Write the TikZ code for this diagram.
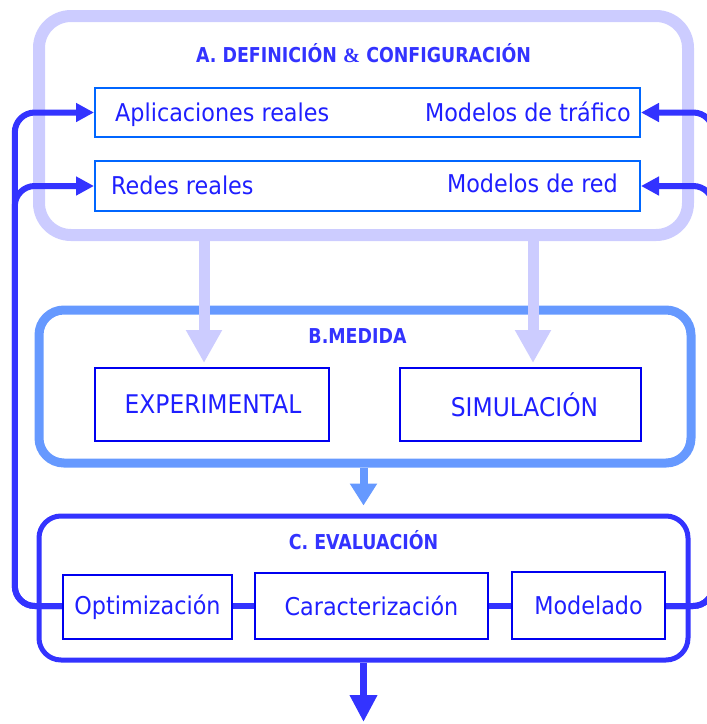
\documentclass[tikz,border=0pt]{standalone}
\usepackage{fontspec}
\usetikzlibrary{arrows.meta}
\newfontfamily\tahfont[FakeStretch=0.91]{DejaVu Sans}
\newfontfamily\tahbfont[FakeStretch=0.85]{DejaVu Sans}
\newfontfamily\ampfont{Liberation Serif}
\definecolor{lav}{HTML}{CCCCFF}
\definecolor{bmid}{HTML}{6699FF}
\definecolor{cblue}{HTML}{3333FF}
\definecolor{txtblue}{HTML}{1F1FFF}
\definecolor{rowblue}{HTML}{0066FF}
\definecolor{boxblue}{HTML}{0000F0}
\tikzset{
  abox/.style={draw=lav, line width=12pt, rounded corners=32pt, inner sep=0pt},
  bbox/.style={draw=bmid, line width=9pt, rounded corners=25pt, inner sep=0pt},
  cbox/.style={draw=cblue, line width=5pt, rounded corners=22pt, inner sep=0pt},
  rowbox/.style={draw=rowblue, line width=2pt, fill=white, inner sep=0pt},
  stepbox/.style={draw=boxblue, line width=2.4pt, fill=white, inner sep=0pt,
    text=txtblue, font=\tahfont\fontsize{24.5}{29}\selectfont},
  bigbox/.style={stepbox, font=\tahfont\fontsize{25.7}{30}\selectfont},
  lbl/.style={inner sep=0pt, text=txtblue, font=\tahfont\fontsize{24.5}{29}\selectfont},
  ttl/.style={inner sep=0pt, text=cblue, font=\tahbfont\bfseries\fontsize{20.5}{24}\selectfont},
  lavarrow/.style={draw=lav, line width=11pt, -{Triangle[length=33pt,width=34pt]}},
  midarrow/.style={draw=bmid, line width=8pt, -{Triangle[length=22pt,width=26pt]}},
  fb/.style={draw=cblue, line width=6pt, rounded corners=20pt, -{Triangle[length=18pt,width=18pt]}},
  link/.style={draw=cblue, line width=6pt}
}
\begin{document}
\begin{tikzpicture}[x=1pt,y=-1pt]
\useasboundingbox (0,0) rectangle (707,724);
\clip (0,0) rectangle (707,724);
% A
\node[abox, minimum width=649pt, minimum height=219pt] (A) at (363.5,125.5) {};
\node[ttl, anchor=base] (tA) at (363.5,62) {A. DEFINICIÓN {\ampfont\bfseries\&} CONFIGURACIÓN};
\node[rowbox, minimum width=545pt, minimum height=49pt] (r1) at (367.5,112.5) {};
\node[rowbox, minimum width=545pt, minimum height=50pt] (r2) at (367.5,186) {};
\node[lbl, anchor=base west] (apl) at (115,121) {Aplicaciones reales};
\node[lbl, anchor=base east] (traf) at (631,121) {Modelos de tráfico};
\node[lbl, anchor=base west] (redes) at (111,194) {Redes reales};
\node[lbl, anchor=base east] (mred) at (618,192) {Modelos de red};
% B
\node[bbox, minimum width=652pt, minimum height=153pt] (B) at (365,386.5) {};
\node[ttl, anchor=base] (tB) at (357.5,343) {B.MEDIDA};
\node[bigbox, minimum width=234pt, minimum height=73pt] (exp) at (212,404.5) {\hspace*{2pt}EXPERIMENTAL};
\node[bigbox, minimum width=241pt, minimum height=73pt] (sim) at (520.5,404.5) {\hspace*{8pt}SIMULACIÓN};
\coordinate (t1) at (204,363);
\coordinate (t2) at (533,363);
\draw[lavarrow] (A.south -| t1) -- (t1);
\draw[lavarrow] (A.south -| t2) -- (t2);
% C
\node[cbox, minimum width=649pt, minimum height=144pt] (C) at (363.5,588) {};
\node[ttl, anchor=base] (tC) at (363.5,549) {C. EVALUACIÓN};
\draw[midarrow, shorten >=8pt] (B.south -| tC) -- (C.north -| tC);
\coordinate (down) at (363.5,722);
\draw[link] (147.5,606) -- (371.5,606) -- (588.5,606);
\node[stepbox, minimum width=169pt, minimum height=64pt] (opt) at (147.5,607) {Optimización};
\node[stepbox, minimum width=233pt, minimum height=66pt] (car) at (371.5,606) {Caracterización};
\node[stepbox, minimum width=153pt, minimum height=67pt] (mod) at (588.5,605.5) {Modelado};
\draw[fb] (opt.west |- 0,606) -- ++(-47,0) |- (r1.west);
\draw[fb] (opt.west |- 0,606) -- ++(-47,0) |- (r2.west);
\draw[fb] (mod.east |- 0,606) -- ++(47,0) |- (r1.east);
\draw[fb] (mod.east |- 0,606) -- ++(47,0) |- (r2.east);
\draw[draw=cblue, line width=7pt, -{Triangle[length=27pt,width=26pt]}] (C.south -| tC) -- (down);
\end{tikzpicture}
\end{document}
